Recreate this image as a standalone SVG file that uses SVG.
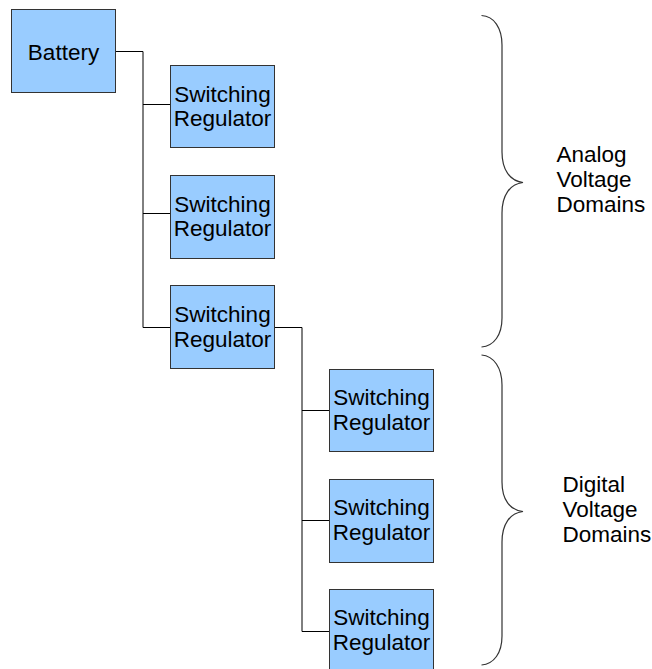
<svg xmlns="http://www.w3.org/2000/svg" width="652" height="669" viewBox="0 0 652 669">
<style>
.box{fill:#99ccff;stroke:#333333;stroke-width:1}
.t{font-family:"Liberation Sans",Arial,sans-serif;font-size:22.5px;fill:#000}
.tc{text-anchor:middle}
.wire{fill:none;stroke:#000;stroke-width:1}
.brace{fill:none;stroke:#333333;stroke-width:1.2}
</style>
<rect width="652" height="669" fill="#ffffff"/>
<g id="connectors">
<path class="wire" d="M115.5,51.5 H143 V327.5 M143,104.5 H170.5 M143,213.5 H170.5 M143,327.5 H170.5"/>
<path class="wire" d="M274.5,327.5 H302 V631.5 M302,410.5 H329.5 M302,520.5 H329.5 M302,631.5 H329.5"/>
</g>
<g id="battery">
<rect class="box" x="11.5" y="9.5" width="104" height="83"/>
<text class="t tc" x="63.5" y="60">Battery</text>
</g>
<g id="reg1">
<rect class="box" x="170.5" y="65.5" width="104" height="82"/>
<text class="t tc" x="222.5" y="101.5">Switching</text>
<text class="t tc" x="222.5" y="126">Regulator</text>
</g>
<g id="reg2">
<rect class="box" x="170.5" y="175.5" width="104" height="83"/>
<text class="t tc" x="222.5" y="211.5">Switching</text>
<text class="t tc" x="222.5" y="236">Regulator</text>
</g>
<g id="reg3">
<rect class="box" x="170.5" y="285.5" width="104" height="83"/>
<text class="t tc" x="222.5" y="321.5">Switching</text>
<text class="t tc" x="222.5" y="346.5">Regulator</text>
</g>
<g id="reg4">
<rect class="box" x="329.5" y="369.5" width="104" height="82"/>
<text class="t tc" x="381.5" y="405">Switching</text>
<text class="t tc" x="381.5" y="430">Regulator</text>
</g>
<g id="reg5">
<rect class="box" x="329.5" y="479.5" width="104" height="83"/>
<text class="t tc" x="381.5" y="515">Switching</text>
<text class="t tc" x="381.5" y="540">Regulator</text>
</g>
<g id="reg6">
<rect class="box" x="329.5" y="589.5" width="104" height="83"/>
<text class="t tc" x="381.5" y="625">Switching</text>
<text class="t tc" x="381.5" y="650">Regulator</text>
</g>
<g id="analog-brace">
<path class="brace" d="M481.5,15.5 C494,16 502,28 502,45 L502,152 C502,170 510,181 523,182.5 C510,184 502,195 502,213 L502,318 C502,335 494,346 481.5,347"/>
<text class="t" x="556.5" y="162">Analog</text>
<text class="t" x="556.5" y="187">Voltage</text>
<text class="t" x="556.5" y="212">Domains</text>
</g>
<g id="digital-brace">
<path class="brace" d="M481.5,355 C494,356 502,368 502,385 L502,482 C502,500 510,510 523,511.5 C510,513 502,524 502,542 L502,636 C502,653 494,664 481.5,665"/>
<text class="t" x="562.5" y="492">Digital</text>
<text class="t" x="562.5" y="517">Voltage</text>
<text class="t" x="562.5" y="542">Domains</text>
</g>
</svg>
